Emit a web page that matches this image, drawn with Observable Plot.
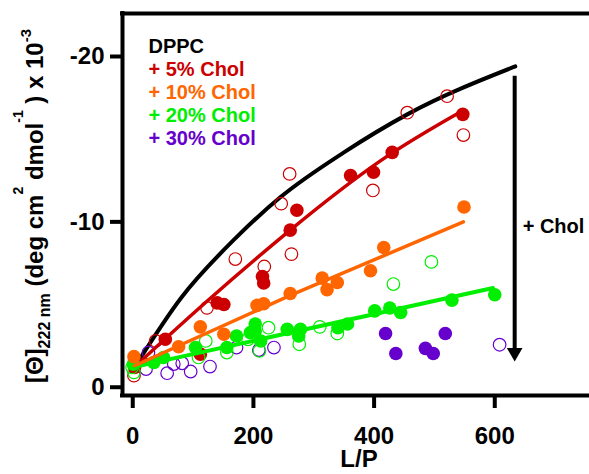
<!DOCTYPE html>
<html><head><meta charset="utf-8">
<script src="https://cdn.jsdelivr.net/npm/d3@7"></script>
<script src="https://cdn.jsdelivr.net/npm/@observablehq/plot@0.6"></script>
<style>body{margin:0;background:#fff;} svg{display:block}</style>
</head><body><div id="chart"></div>
<script>
// ---- axes ----
const xTicks = [0, 200, 400, 600];
const yTicks = [0, -10, -20];
const xDomain = [-17, 757];
const yDomain = [0.5, -22.6];

// ---- legend ----
const legendLabels = ["DPPC", "+ 5% Chol", "+ 10% Chol", "+ 20% Chol", "+ 30% Chol"];
const legendColors = ["#000000", "#cc0000", "#ff6600", "#00ee00", "#6600cc"];

// ---- data: [L/P, theta] ----
const dppcCurve = [[8,-1.5],[80,-5.4],[170,-9.0],[245,-11.5],[350,-14.2],[455,-16.5],[634,-19.4]];

const chol5Filled = [[3,-1.2],[54,-2.9],[112,-2.0],[140,-5.1],[151,-5.0],[215,-6.7],[217,-6.3],[261,-9.5],[272,-10.7],[361,-12.8],[399,-13.0],[430,-14.2],[547,-16.5]];
const chol5Open = [[2,-0.7],[38,-2.8],[123,-4.8],[170,-7.75],[218,-7.3],[263,-8.05],[246,-11.1],[260,-12.9],[398,-11.9],[455,-16.6],[521,-17.6],[548,-15.25]];
const chol5Fit = [[5,-1.3],[123,-5.2],[261,-9.5],[411,-13.7],[546,-16.7]];

const chol10Filled = [[2,-1.85],[76,-2.45],[112,-3.65],[151,-3.2],[206,-4.95],[217,-5.05],[261,-5.67],[314,-6.6],[322,-5.9],[339,-6.33],[394,-7.04],[416,-8.45],[549,-10.9]];
const chol10Fit = [[3,-1.3],[261,-5.55],[548,-10.0]];

const chol20Filled = [[1,-1.4],[35,-1.5],[51,-1.8],[104,-2.4],[156,-2.4],[172,-3.1],[195,-3.3],[203,-3.82],[203,-3.4],[212,-2.8],[256,-3.5],[275,-3.1],[278,-3.5],[340,-3.6],[356,-3.82],[401,-4.62],[426,-4.79],[444,-4.52],[529,-5.27],[600,-5.59]];
const chol20Open = [[-1,-1.2],[2,-0.9],[109,-1.8],[121,-2.8],[156,-2.1],[191,-2.9],[210,-2.2],[225,-3.6],[276,-2.6],[310,-3.65],[339,-3.25],[432,-6.24],[495,-7.58]];
const chol20Fit = [[0,-1.2],[597,-6.0]];

const chol30Filled = [[419,-3.25],[436,-2.04],[485,-2.35],[498,-2.04],[518,-3.25]];
const chol30Open = [[22,-1.1],[26,-2.1],[57,-0.85],[68,-1.4],[82,-1.45],[96,-0.95],[128,-1.25],[172,-2.4],[209,-2.25],[234,-2.4],[608,-2.57]];

// ---- annotation ----
const cholArrow = [{x: 633, y1: -18.8, y2: -2.3, head: -2.1}];
const cholLabel = [{x: 633, y: -9.3, text: "+ Chol"}];

const pts = a => a.map(([x, y]) => ({x, y}));
const FONT = "'Liberation Sans', Arial, Helvetica, sans-serif";

const filled = (a, c) => Plot.dot(pts(a), {x: "x", y: "y", r: 6.8, fill: c, stroke: "none"});
const open = (a, c) => Plot.dot(pts(a), {x: "x", y: "y", r: 6.3, fill: "none", stroke: c, strokeWidth: 1.2});
const fit = (a, c, curve, w) => Plot.line(pts(a), {x: "x", y: "y", stroke: c, strokeWidth: w || 3.5, curve: curve || "linear"});

const plot = Plot.plot({
  width: 589,
  height: 474,
  marginLeft: 122,
  marginRight: 0,
  marginTop: 13,
  marginBottom: 79,
  style: {fontFamily: FONT, fontWeight: "bold", background: "white"},
  x: {domain: xDomain},
  y: {domain: yDomain},
  marks: [
    Plot.axisX({ticks: xTicks, tickSize: 13, tickPadding: 18, strokeWidth: 4, fontSize: 24, tickFormat: d => `${d}`, label: null}),
    Plot.axisY({ticks: yTicks, tickSize: 12, tickPadding: 6, strokeWidth: 4, fontSize: 24, tickFormat: d => `${d}`, label: null}),
    Plot.ruleX([xDomain[0]], {strokeWidth: 4, strokeLinecap: "square"}),
    Plot.ruleY([yDomain[0]], {strokeWidth: 4, strokeLinecap: "square"}),
    Plot.ruleY([yDomain[1]], {strokeWidth: 4, strokeLinecap: "square"}),
    fit(dppcCurve, "#000000", "monotone-x", 4),
    open(chol30Open, legendColors[4]),
    filled(chol30Filled, legendColors[4]),
    open(chol5Open, legendColors[1]),
    fit(chol5Fit, legendColors[1], "natural"),
    filled(chol5Filled, legendColors[1]),
    open(chol20Open, legendColors[3]),
    filled(chol20Filled, legendColors[3]),
    fit(chol20Fit, legendColors[3], "linear", 4),
    fit(chol10Fit, legendColors[2]),
    filled(chol10Filled, legendColors[2]),
    Plot.ruleX(cholArrow, {x: "x", y1: "y1", y2: "y2", strokeWidth: 4}),
    Plot.dot(cholArrow, {x: "x", y: "head", symbol: "triangle", rotate: 180, r: 5.8, fill: "black", stroke: "none"}),
    Plot.text(cholLabel, {x: "x", y: "y", text: "text", dx: 8, textAnchor: "start", lineAnchor: "bottom", fontSize: 20, fill: "black"}),
    ...legendLabels.map((t, i) => Plot.text([t], {
      frameAnchor: "top-left", dx: 26, dy: 39 + i * 23, textAnchor: "start", lineAnchor: "bottom",
      fontSize: 20, fill: legendColors[i]
    }))
  ]
});

const svg = d3.select(plot);
// x label
svg.append("text")
  .attr("x", 359).attr("y", 467)
  .attr("text-anchor", "middle")
  .attr("font-size", 24).attr("font-weight", "bold").attr("font-family", FONT)
  .attr("fill", "black")
  .text("L/P");

// y label with sub/superscripts
const yl = svg.append("text")
  .attr("transform", "translate(43,206) rotate(-90)")
  .attr("text-anchor", "middle")
  .attr("font-size", 24).attr("font-weight", "bold").attr("font-family", FONT)
  .attr("fill", "black");
yl.append("tspan").text("[Θ]");
yl.append("tspan").attr("font-size", 16).attr("dy", 7).text("222 nm");
yl.append("tspan").attr("dy", -7).text(" (deg cm");
yl.append("tspan").attr("font-size", 14).attr("dy", -20).text("2");
yl.append("tspan").attr("dy", 20).text(" dmol");
yl.append("tspan").attr("font-size", 14).attr("dy", -20).text("-1");
yl.append("tspan").attr("dy", 20).text(" ) x 10");
yl.append("tspan").attr("font-size", 15).attr("dy", -12).text("-3");

document.getElementById("chart").appendChild(plot);
</script>
</body></html>
